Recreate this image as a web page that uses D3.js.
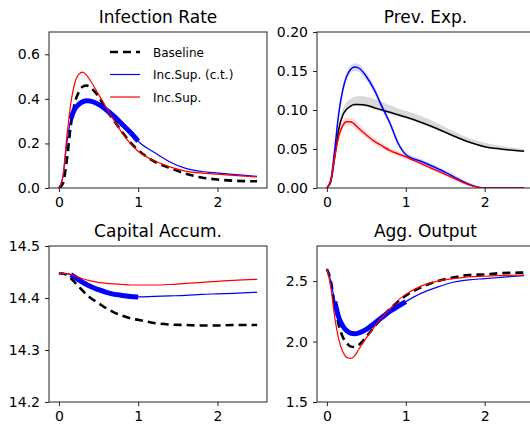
<!DOCTYPE html>
<html>
<head>
<meta charset="utf-8">
<script src="https://cdn.jsdelivr.net/npm/d3@7"></script>
<style>
  body { margin: 0; background: #fff; }
  text { font-family: "DejaVu Sans", sans-serif; fill: #000; }
</style>
</head>
<body>
<svg id="fig" width="530" height="426"></svg>
<script>
// time grid shared by every series
var tGrid = [0, 0.05, 0.1, 0.15, 0.2, 0.25, 0.3, 0.35, 0.4, 0.5, 0.6, 0.7, 0.8, 0.9, 1.0, 1.2, 1.4, 1.6, 1.8, 2.0, 2.2, 2.5];

// Infection Rate
var infBase = [0, 0.02, 0.125, 0.28, 0.38, 0.43, 0.455, 0.46, 0.45, 0.41, 0.35, 0.30, 0.25, 0.205, 0.17, 0.12, 0.09, 0.064, 0.047, 0.038, 0.033, 0.03];
var infCt   = [0, 0.05, 0.2, 0.31, 0.355, 0.375, 0.387, 0.392, 0.39, 0.375, 0.35, 0.32, 0.285, 0.25, 0.21, 0.16, 0.117, 0.088, 0.074, 0.067, 0.061, 0.052];
var infSup  = [0, 0.05, 0.23, 0.38, 0.47, 0.51, 0.52, 0.505, 0.48, 0.42, 0.36, 0.30, 0.245, 0.2, 0.165, 0.122, 0.095, 0.076, 0.067, 0.062, 0.057, 0.05];

// Prev. Exp. (with shaded bands)
var prevBase   = [0, 0.008, 0.04, 0.075, 0.093, 0.101, 0.105, 0.107, 0.107, 0.106, 0.103, 0.1, 0.097, 0.094, 0.091, 0.084, 0.076, 0.067, 0.059, 0.053, 0.05, 0.047];
var prevBaseLo = [0, 0.007, 0.038, 0.073, 0.091, 0.099, 0.103, 0.105, 0.105, 0.104, 0.101, 0.098, 0.095, 0.092, 0.089, 0.082, 0.074, 0.066, 0.058, 0.052, 0.049, 0.046];
var prevBaseHi = [0, 0.01, 0.045, 0.082, 0.101, 0.11, 0.114, 0.117, 0.118, 0.117, 0.114, 0.11, 0.106, 0.102, 0.099, 0.092, 0.083, 0.073, 0.064, 0.058, 0.054, 0.05];
var prevCt     = [0, 0.01, 0.05, 0.095, 0.125, 0.143, 0.152, 0.155, 0.154, 0.143, 0.126, 0.104, 0.083, 0.058, 0.043, 0.034, 0.025, 0.015, 0.005, 0, 0, 0];
var prevCtSd   = [0, 0.001, 0.003, 0.004, 0.005, 0.005, 0.005, 0.005, 0.005, 0.005, 0.005, 0.004, 0.004, 0.004, 0.003, 0.003, 0.003, 0.003, 0.002, 0, 0, 0];
var prevSup    = [0, 0.01, 0.04, 0.066, 0.08, 0.085, 0.085, 0.082, 0.077, 0.068, 0.06, 0.054, 0.048, 0.044, 0.04, 0.031, 0.022, 0.013, 0.004, 0, 0, 0];
var prevSupSd  = [0, 0.001, 0.003, 0.004, 0.005, 0.005, 0.005, 0.005, 0.005, 0.004, 0.004, 0.003, 0.003, 0.003, 0.002, 0.002, 0.002, 0.002, 0.001, 0, 0, 0];

// Capital Accum.
var capBase = [14.447, 14.447, 14.444, 14.438, 14.43, 14.422, 14.414, 14.406, 14.4, 14.39, 14.38, 14.372, 14.366, 14.361, 14.358, 14.352, 14.349, 14.348, 14.347, 14.347, 14.348, 14.348];
var capCt   = [14.447, 14.447, 14.447, 14.445, 14.44, 14.435, 14.43, 14.426, 14.422, 14.416, 14.411, 14.407, 14.405, 14.403, 14.402, 14.403, 14.404, 14.405, 14.407, 14.408, 14.409, 14.411];
var capSup  = [14.447, 14.447, 14.447, 14.445, 14.442, 14.44, 14.437, 14.435, 14.433, 14.43, 14.428, 14.427, 14.426, 14.425, 14.425, 14.425, 14.426, 14.428, 14.43, 14.432, 14.434, 14.436];

// Agg. Output
var outBase = [2.6, 2.5, 2.3, 2.14, 2.04, 1.99, 1.96, 1.955, 1.97, 2.04, 2.12, 2.2, 2.27, 2.33, 2.38, 2.45, 2.5, 2.53, 2.55, 2.555, 2.565, 2.57];
var outCt   = [2.6, 2.5, 2.33, 2.2, 2.13, 2.09, 2.07, 2.065, 2.07, 2.1, 2.15, 2.2, 2.25, 2.29, 2.33, 2.4, 2.45, 2.49, 2.51, 2.52, 2.53, 2.545];
var outSup  = [2.6, 2.45, 2.2, 2.02, 1.92, 1.87, 1.86, 1.88, 1.93, 2.03, 2.12, 2.2, 2.27, 2.34, 2.39, 2.46, 2.5, 2.52, 2.535, 2.54, 2.545, 2.55];

var legendLabels = ["Baseline", "Inc.Sup. (c.t.)", "Inc.Sup."];
var xTicks = [0, 1, 2];

var svg = d3.select("#fig");

function zip(vals) {
  return tGrid.map(function (t, i) { return { t: t, v: vals[i] }; });
}

var panels = [
  { title: "Infection Rate", left: 49, right: 267, top: 32, bottom: 188,
    yDomain: [0, 0.7], yTicks: [0, 0.2, 0.4, 0.6], fmt: ".1f", thick: [0.15, 1.0], legend: true,
    base: infBase, ct: infCt, sup: infSup },
  { title: "Prev. Exp.", left: 317, right: 534, top: 32, bottom: 188,
    yDomain: [0, 0.2], yTicks: [0, 0.05, 0.1, 0.15, 0.2], fmt: ".2f", thick: null, solidBase: true,
    base: prevBase, ct: prevCt, sup: prevSup,
    bands: [
      { lo: prevBaseLo, hi: prevBaseHi, color: "rgba(0,0,0,0.15)" },
      { lo: prevCt.map(function (v, i) { return v - prevCtSd[i]; }), hi: prevCt.map(function (v, i) { return v + prevCtSd[i]; }), color: "rgba(0,0,255,0.15)" },
      { lo: prevSup.map(function (v, i) { return v - prevSupSd[i]; }), hi: prevSup.map(function (v, i) { return v + prevSupSd[i]; }), color: "rgba(255,0,0,0.15)" }
    ] },
  { title: "Capital Accum.", left: 49, right: 267, top: 246, bottom: 402,
    yDomain: [14.2, 14.5], yTicks: [14.2, 14.3, 14.4, 14.5], fmt: ".1f", thick: [0.15, 1.0],
    base: capBase, ct: capCt, sup: capSup },
  { title: "Agg. Output", left: 317, right: 534, top: 246, bottom: 402,
    yDomain: [1.5, 2.79], yTicks: [1.5, 2.0, 2.5], fmt: ".1f", thick: [0.08, 1.0],
    base: outBase, ct: outCt, sup: outSup }
];

panels.forEach(function (p, k) {
  var x = d3.scaleLinear().domain([-0.125, 2.625]).range([p.left, p.right]);
  var y = d3.scaleLinear().domain(p.yDomain).range([p.bottom, p.top]);
  var g = svg.append("g");

  var clipId = "clip" + k;
  g.append("clipPath").attr("id", clipId)
    .append("rect")
    .attr("x", p.left).attr("y", p.top)
    .attr("width", p.right - p.left).attr("height", p.bottom - p.top);

  var plot = g.append("g").attr("clip-path", "url(#" + clipId + ")");

  var line = d3.line()
    .x(function (d) { return x(d.t); })
    .y(function (d) { return y(d.v); })
    .curve(d3.curveMonotoneX);

  // shaded bands
  if (p.bands) {
    p.bands.forEach(function (b) {
      var area = d3.area()
        .x(function (d) { return x(d.t); })
        .y0(function (d, i) { return y(b.lo[i]); })
        .y1(function (d, i) { return y(b.hi[i]); })
        .curve(d3.curveMonotoneX);
      plot.append("path").datum(zip(b.lo))
        .attr("d", area).attr("fill", b.color).attr("stroke", "none");
    });
  }

  // baseline
  var basePath = plot.append("path").datum(zip(p.base))
    .attr("d", line).attr("fill", "none").attr("stroke", "#000");
  if (p.solidBase) {
    basePath.attr("stroke-width", 1.5);
  } else {
    basePath.attr("stroke-width", 2.6).attr("stroke-dasharray", "8,5");
  }

  // Inc.Sup. (c.t.)
  plot.append("path").datum(zip(p.ct))
    .attr("d", line).attr("fill", "none").attr("stroke", "#0000ff")
    .attr("stroke-width", p.solidBase ? 1.5 : 1.2);
  if (p.thick) {
    var seg = zip(p.ct).filter(function (d) { return d.t >= p.thick[0] && d.t <= p.thick[1]; });
    plot.append("path").datum(seg)
      .attr("d", line).attr("fill", "none").attr("stroke", "#0000ff")
      .attr("stroke-width", 5);
  }

  // Inc.Sup.
  plot.append("path").datum(zip(p.sup))
    .attr("d", line).attr("fill", "none").attr("stroke", "#ff0000")
    .attr("stroke-width", p.solidBase ? 1.5 : 1.2);

  // axes
  var xAxis = g.append("g")
    .attr("transform", "translate(0," + p.bottom + ")")
    .call(d3.axisBottom(x).tickValues(xTicks).tickFormat(d3.format("d")).tickSize(4).tickPadding(5));
  var yAxis = g.append("g")
    .attr("transform", "translate(" + p.left + ",0)")
    .call(d3.axisLeft(y).tickValues(p.yTicks).tickFormat(d3.format(p.fmt)).tickSize(4).tickPadding(5));
  [xAxis, yAxis].forEach(function (a) {
    a.select(".domain").remove();
    a.selectAll(".tick line").attr("stroke", "#222").attr("stroke-width", 1);
    a.selectAll(".tick text").style("font-size", "14px").attr("fill", "#000");
  });
  xAxis.selectAll(".tick text").attr("dy", "0.71em");

  // spines
  g.append("rect")
    .attr("x", p.left).attr("y", p.top)
    .attr("width", p.right - p.left).attr("height", p.bottom - p.top)
    .attr("fill", "none").attr("stroke", "#222").attr("stroke-width", 1);

  // title
  g.append("text")
    .attr("x", (p.left + p.right) / 2)
    .attr("y", p.top - 9)
    .attr("text-anchor", "middle")
    .style("font-size", "17px")
    .text(p.title);

  // legend
  if (p.legend) {
    var styles = [
      { color: "#000", width: 2.6, dash: "8,5" },
      { color: "#0000ff", width: 1.2, dash: null },
      { color: "#ff0000", width: 1.2, dash: null }
    ];
    var lg = g.append("g");
    legendLabels.forEach(function (label, i) {
      var cy = 52 + i * 22.5;
      lg.append("line")
        .attr("x1", 110).attr("x2", 140).attr("y1", cy).attr("y2", cy)
        .attr("stroke", styles[i].color).attr("stroke-width", styles[i].width)
        .attr("stroke-dasharray", styles[i].dash);
      lg.append("text")
        .attr("x", 153).attr("y", cy + 4.5)
        .style("font-size", "12px")
        .text(label);
    });
  }
});
</script>
</body>
</html>
